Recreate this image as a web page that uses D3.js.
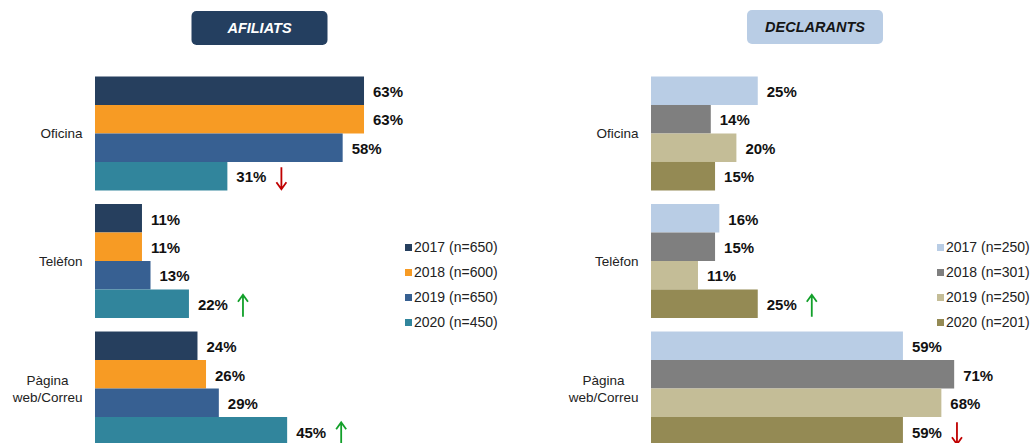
<!DOCTYPE html>
<html>
<head>
<meta charset="utf-8">
<script src="https://cdn.jsdelivr.net/npm/d3@7"></script>
<style>
  body { margin: 0; background: #fff; }
  svg { display: block; font-family: "Liberation Sans", Arial, sans-serif; }
</style>
</head>
<body>
<svg id="chart" width="1031" height="443"></svg>
<script>
// --------------------------
// DATA
// --------------------------
const categories = ["Oficina", "Telèfon", "Pàgina|web/Correu"];

const afiliatsSeries = ["2017 (n=650)", "2018 (n=600)", "2019 (n=650)", "2020 (n=450)"];
const afiliatsValues = [
    [63, 11, 24],
    [63, 11, 26],
    [58, 13, 29],
    [31, 22, 45]
];
const afiliatsColors = ["#263f5e", "#f79b24", "#376092", "#31859c"];

const declarantsSeries = ["2017 (n=250)", "2018 (n=301)", "2019 (n=250)", "2020 (n=201)"];
const declarantsValues = [
    [25, 16, 59],
    [14, 15, 71],
    [20, 11, 68],
    [15, 25, 59]
];
const declarantsColors = ["#b9cde5", "#7f7f7f", "#c4bd97", "#948a54"];

// trend arrows: [category index, series index, direction]
const afiliatsArrows = [[0, 3, "down"], [1, 3, "up"], [2, 3, "up"]];
const declarantsArrows = [[1, 3, "up"], [2, 3, "down"]];

// --------------------------
// DRAW
// --------------------------
const svg = d3.select("#chart");

const y = d3.scaleBand()
    .domain(categories)
    .range([76.5, 445.5])
    .paddingInner(0.106)
    .paddingOuter(0);

function drawPanel(opts) {
    const g = svg.append("g");
    const x = d3.scaleLinear().domain([0, 100]).range([opts.x0, opts.x0 + 427]);
    const ySub = d3.scaleBand().domain(d3.range(opts.series.length)).range([0, y.bandwidth()]);

    // title box
    g.append("rect")
        .attr("x", opts.titleX - 68).attr("y", opts.titleY)
        .attr("width", 136).attr("height", 34)
        .attr("rx", 5)
        .attr("fill", opts.titleFill);
    g.append("text")
        .attr("x", opts.titleX).attr("y", opts.titleY + 17)
        .attr("dy", "0.36em")
        .attr("text-anchor", "middle")
        .attr("font-size", 14.5)
        .attr("font-weight", "bold")
        .attr("font-style", "italic")
        .attr("fill", opts.titleColor)
        .text(opts.title);

    // bars + values
    const rows = [];
    opts.values.forEach((vals, s) => {
        vals.forEach((v, c) => rows.push({ s, c, v }));
    });

    g.append("g").selectAll("rect")
        .data(rows)
        .enter().append("rect")
        .attr("x", x(0))
        .attr("y", d => y(categories[d.c]) + ySub(d.s))
        .attr("width", d => x(d.v) - x(0))
        .attr("height", ySub.bandwidth())
        .attr("fill", d => opts.colors[d.s]);

    const labels = g.append("g").selectAll("text")
        .data(rows)
        .enter().append("text")
        .attr("x", d => x(d.v) + 9)
        .attr("y", d => y(categories[d.c]) + ySub(d.s) + ySub.bandwidth() / 2 + 1)
        .attr("dy", "0.35em")
        .attr("font-size", 15)
        .attr("font-weight", "bold")
        .attr("fill", "#111")
        .text(d => d.v + "%");

    // arrows
    opts.arrows.forEach(([c, s, dir]) => {
        const node = labels.filter(d => d.c === c && d.s === s).node();
        const ax = x(opts.values[s][c]) + 9 + node.getComputedTextLength() + 15;
        const cy = y(categories[c]) + ySub(s) + ySub.bandwidth() / 2 + 2;
        const top = cy - 11, bot = cy + 11;
        const color = dir === "up" ? "#12a02a" : "#c00000";
        const tip = dir === "up" ? top : bot;
        const k = dir === "up" ? 1 : -1;
        g.append("path")
            .attr("d", `M${ax},${top}L${ax},${bot}M${ax - 5},${tip + k * 7}L${ax},${tip}L${ax + 5},${tip + k * 7}`)
            .attr("fill", "none")
            .attr("stroke", color)
            .attr("stroke-width", 1.8);
    });

    // category labels
    categories.forEach(cat => {
        const lines = cat.split("|");
        const cy = y(cat) + y.bandwidth() / 2;
        const t = g.append("text")
            .attr("font-size", 13.5)
            .attr("fill", "#222")
            .attr("text-anchor", "middle");
        lines.forEach((line, i) => {
            t.append("tspan")
                .attr("y", cy + (i - (lines.length - 1) / 2) * 17)
                .attr("dy", "0.35em")
                .text(line);
        });
        const tspans = t.selectAll("tspan").nodes();
        const w = d3.max(tspans, n => n.getComputedTextLength());
        t.selectAll("tspan").attr("x", opts.x0 - 12.5 - w / 2);
    });

    // legend
    const leg = g.append("g").selectAll("g")
        .data(opts.series)
        .enter().append("g")
        .attr("transform", (d, i) => `translate(${opts.legendX},${247 + i * 25})`);
    leg.append("rect")
        .attr("x", 0).attr("y", -3)
        .attr("width", 7).attr("height", 7)
        .attr("fill", (d, i) => opts.colors[i]);
    leg.append("text")
        .attr("x", 9)
        .attr("dy", "0.35em")
        .attr("font-size", 14)
        .attr("fill", "#222")
        .text(d => d);
}

drawPanel({
    x0: 95, title: "AFILIATS", titleX: 259.5, titleY: 11,
    titleFill: "#243f60", titleColor: "#fff",
    series: afiliatsSeries, values: afiliatsValues, colors: afiliatsColors,
    arrows: afiliatsArrows, legendX: 405
});

drawPanel({
    x0: 651, title: "DECLARANTS", titleX: 815, titleY: 10,
    titleFill: "#b9cde5", titleColor: "#151515",
    series: declarantsSeries, values: declarantsValues, colors: declarantsColors,
    arrows: declarantsArrows, legendX: 937
});
</script>
</body>
</html>
